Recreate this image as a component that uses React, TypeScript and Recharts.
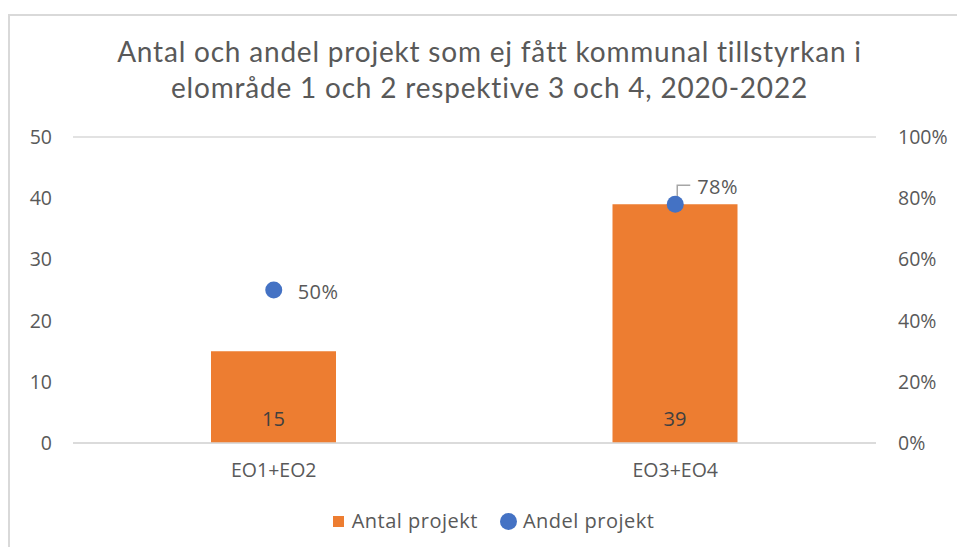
import {
  ComposedChart,
  Bar,
  Scatter,
  XAxis,
  YAxis,
  CartesianGrid,
  Legend,
  LabelList,
} from "recharts";

const categories = ["EO1+EO2", "EO3+EO4"];
const antalProjekt = [15, 39];
const andelProjekt = [0.5, 0.78];
const leftTicks = [0, 10, 20, 30, 40, 50];
const rightTicks = [0, 0.2, 0.4, 0.6, 0.8, 1];

const titleLines = [
  "Antal och andel projekt som ej fått kommunal tillstyrkan i",
  "elområde 1 och 2 respektive 3 och 4, 2020-2022",
];

const data = categories.map((name, i) => ({
  name,
  antal: antalProjekt[i],
  andel: andelProjekt[i],
}));

const ORANGE = "#ED7D31";
const BLUE = "#4472C4";
const GRID = "#d9d9d9";
const TEXT = "#595959";
const FONT = "'Open Sans', sans-serif";

const pct = (v: number) => `${Math.round(v * 100)}%`;

const tickStyle = { fill: TEXT, fontSize: 19.5, fontFamily: FONT };

const BarValue = (props: any) => {
  const { x, y, width, height, value } = props;
  return (
    <text
      x={x + width / 2}
      y={y + height - 25}
      textAnchor="middle"
      dominantBaseline="central"
      fill="#404040"
      fontSize={20}
      fontFamily={FONT}
    >
      {value}
    </text>
  );
};

const PointShape = (props: any) => {
  const { cx, cy, payload } = props;
  const idx = categories.indexOf(payload.name);
  return (
    <g>
      {idx === 1 && (
        <polyline
          points={`${cx + 2},${cy - 4} ${cx + 2},${cy - 19} ${cx + 15},${cy - 19}`}
          fill="none"
          stroke="#a6a6a6"
          strokeWidth={1.5}
        />
      )}
      <circle cx={cx} cy={cy} r={8.5} fill={BLUE} />
      <text
        x={idx === 1 ? cx + 22 : cx + 24}
        y={idx === 1 ? cy - 18 : cy + 1}
        dominantBaseline="central"
        fill={TEXT}
        fontSize={20}
        fontFamily={FONT}
        letterSpacing={0.4}
      >
        {pct(payload.andel)}
      </text>
    </g>
  );
};

const renderLegend = () => (
  <div
    style={{
      display: "flex",
      justifyContent: "center",
      alignItems: "center",
      fontFamily: FONT,
      fontSize: 20,
      letterSpacing: 0.5,
      color: TEXT,
      paddingLeft: 30,
      lineHeight: "24px",
    }}
  >
    <span style={{ width: 11, height: 11, background: ORANGE, marginRight: 8 }} />
    <span style={{ marginRight: 22 }}>Antal projekt</span>
    <span
      style={{ width: 17, height: 17, borderRadius: "50%", background: BLUE, marginRight: 6 }}
    />
    <span>Andel projekt</span>
  </div>
);

const App = () => {
  return (
    <div
      style={{
        position: "absolute",
        left: 0,
        top: 0,
        width: 957,
        height: 547,
        overflow: "hidden",
        background: "#fff",
      }}
    >
      <div
        style={{
          position: "absolute",
          left: 8,
          top: 14,
          width: 1000,
          height: 600,
          border: `2px solid ${GRID}`,
        }}
      />
      <div
        style={{
          position: "absolute",
          left: 11,
          top: 33,
          width: 957,
          textAlign: "center",
          fontFamily: "Lato, sans-serif",
          fontSize: 28,
          letterSpacing: 0.8,
          lineHeight: "36px",
          color: TEXT,
        }}
      >
        {titleLines.map((t) => (
          <div key={t}>{t}</div>
        ))}
      </div>
      <div style={{ position: "absolute", left: 0, top: 0 }}>
        <ComposedChart
          width={957}
          height={547}
          data={data}
          margin={{ top: 137, right: 0, bottom: 14, left: 0 }}
        >
          <CartesianGrid vertical={false} stroke={GRID} strokeWidth={1.5} />
          <XAxis
            dataKey="name"
            height={66}
            tickLine={false}
            axisLine={{ stroke: GRID, strokeWidth: 1.5 }}
            tick={tickStyle}
            tickMargin={14}
          />
          <YAxis
            yAxisId="left"
            orientation="left"
            width={73}
            domain={[0, 50]}
            ticks={leftTicks}
            axisLine={false}
            tickLine={false}
            tickSize={6}
            tickMargin={15}
            tick={tickStyle}
          />
          <YAxis
            yAxisId="right"
            orientation="right"
            width={81}
            domain={[0, 1]}
            ticks={rightTicks}
            tickFormatter={pct}
            axisLine={false}
            tickLine={false}
            tickSize={6}
            tickMargin={16}
            tick={{ ...tickStyle, textAnchor: "start" }}
          />
          <Bar
            yAxisId="left"
            dataKey="antal"
            name="Antal projekt"
            fill={ORANGE}
            barSize={125}
            isAnimationActive={false}
          >
            <LabelList dataKey="antal" content={BarValue} />
          </Bar>
          <Scatter
            yAxisId="right"
            dataKey="andel"
            name="Andel projekt"
            fill={BLUE}
            shape={PointShape}
            isAnimationActive={false}
          />
          <Legend verticalAlign="bottom" content={renderLegend} />
        </ComposedChart>
      </div>
    </div>
  );
};

export default App;
